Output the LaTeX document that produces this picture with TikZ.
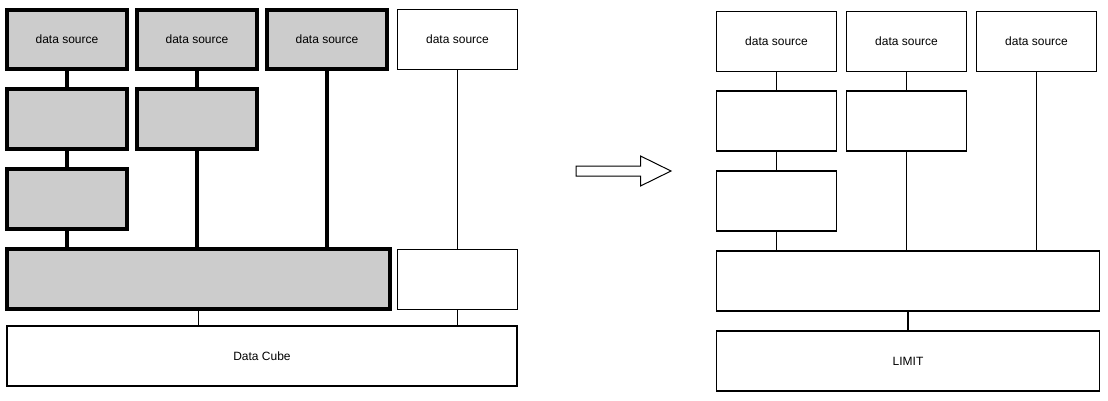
\documentclass[tikz,border=0pt]{standalone}
\usepackage{fontspec}
\setmainfont{Liberation Sans}
\begin{document}
\begin{tikzpicture}[x=1pt,y=-1pt,
  thickbox/.style={draw=black,line width=4pt,fill=gray!40,rectangle,inner sep=0pt,font=\fontsize{12}{14}\selectfont},
  thinbox/.style={draw=black,line width=1.1pt,fill=white,rectangle,inner sep=0pt,font=\fontsize{12}{14}\selectfont},
  thickline/.style={line width=4pt},
  thinline/.style={line width=1.1pt}]
\useasboundingbox (0,0) rectangle (1108,401);
% left side
\node[thickbox,minimum width=120pt,minimum height=59pt] (a1) at (67,39.5) {data source};
\node[thickbox,minimum width=120pt,minimum height=59pt] (a2) at (197,39.5) {data source};
\node[thickbox,minimum width=120pt,minimum height=59pt] (a3) at (327,39.5) {data source};
\node[thinbox,minimum width=120pt,minimum height=60pt] (a4) at (457.5,39.5) {data source};
\node[thickbox,minimum width=120pt,minimum height=60pt] (b1) at (67,119) {};
\node[thickbox,minimum width=120pt,minimum height=60pt] (b2) at (197,119) {};
\node[thickbox,minimum width=120pt,minimum height=60pt] (c1) at (67,199) {};
\node[thickbox,minimum width=383pt,minimum height=60pt] (big) at (198.5,279) {};
\node[thinbox,minimum width=120pt,minimum height=60pt] (sm) at (457.5,279.5) {};
\node[thinbox,minimum width=510pt,minimum height=60pt] (cube) at (262,356) {Data Cube};
\draw[thickline] (a1.south) -- (b1.north);
\draw[thickline] (b1.south) -- (c1.north);
\draw[thickline] (c1.south) -- (c1.south |- big.north);
\draw[thickline] (a2.south) -- (b2.north);
\draw[thickline] (b2.south) -- (b2.south |- big.north);
\draw[thickline] (a3.south) -- (a3.south |- big.north);
\draw[thinline] (a4.south) -- (sm.north);
\draw[thinline] (big.south) -- (big.south |- cube.north);
\draw[thinline] (sm.south) -- (sm.south |- cube.north);
% arrow
\draw[line width=1pt,fill=white] (576,166) -- (640.5,166) -- (640.5,156) -- (671,171) -- (640.5,186) -- (640.5,176) -- (576,176) -- cycle;
% right side
\node[thinbox,minimum width=120pt,minimum height=60pt] (r1) at (776.5,41.5) {data source};
\node[thinbox,minimum width=120pt,minimum height=60pt] (r2) at (906.5,41.5) {data source};
\node[thinbox,minimum width=120pt,minimum height=60pt] (r3) at (1036.5,41.5) {data source};
\node[thinbox,minimum width=120pt,minimum height=60pt] (s1) at (776.5,121) {};
\node[thinbox,minimum width=120pt,minimum height=60pt] (s2) at (906.5,121) {};
\node[thinbox,minimum width=120pt,minimum height=60pt] (t1) at (776.5,201) {};
\node[thinbox,minimum width=383pt,minimum height=60pt] (rbig) at (908,281) {};
\node[thinbox,minimum width=383pt,minimum height=60pt] (limit) at (908,361) {LIMIT};
\draw[thinline] (r1.south) -- (s1.north);
\draw[thinline] (s1.south) -- (t1.north);
\draw[thinline] (t1.south) -- (t1.south |- rbig.north);
\draw[thinline] (r2.south) -- (s2.north);
\draw[thinline] (s2.south) -- (s2.south |- rbig.north);
\draw[thinline] (r3.south) -- (r3.south |- rbig.north);
\draw[thinline] (rbig.south) -- (limit.north);
\end{tikzpicture}
\end{document}
